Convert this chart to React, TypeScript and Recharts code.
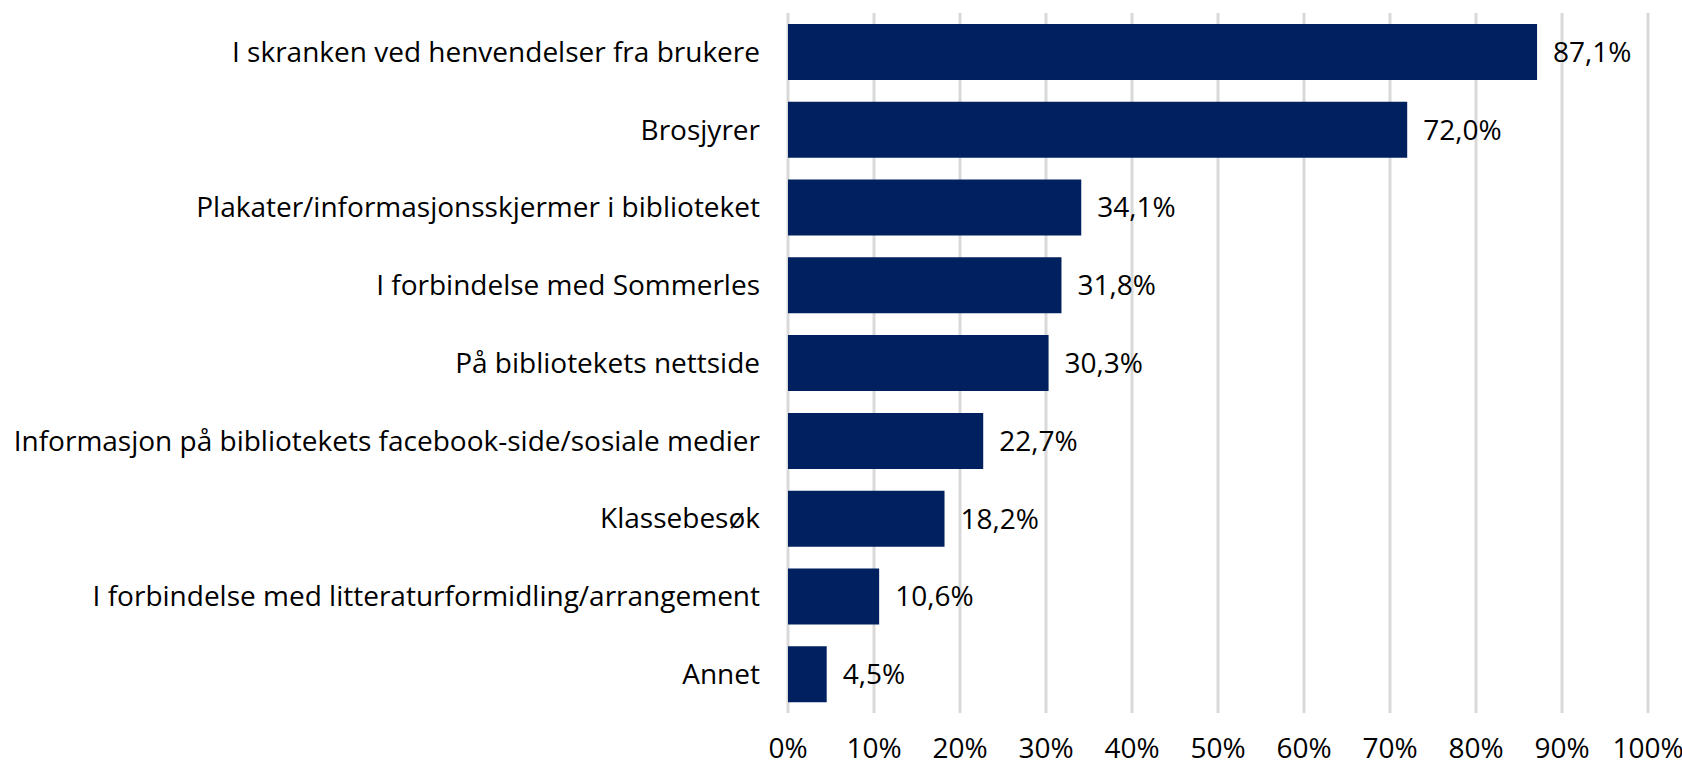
import React from "react";
import { BarChart, Bar, XAxis, YAxis, CartesianGrid, LabelList } from "recharts";

const categories = [
  "I skranken ved henvendelser fra brukere",
  "Brosjyrer",
  "Plakater/informasjonsskjermer i biblioteket",
  "I forbindelse med Sommerles",
  "På bibliotekets nettside",
  "Informasjon på bibliotekets facebook-side/sosiale medier",
  "Klassebesøk",
  "I forbindelse med litteraturformidling/arrangement",
  "Annet",
];
const values = [87.1, 72.0, 34.1, 31.8, 30.3, 22.7, 18.2, 10.6, 4.5];
const xTicks = [0, 10, 20, 30, 40, 50, 60, 70, 80, 90, 100];

const data = categories.map((name, i) => ({ name, value: values[i] }));

const FONT = "'Open Sans', sans-serif";
const FS = 28;

export default function App() {
  return (
    <div style={{ position: "absolute", left: 0, top: 0, background: "#fff" }}>
      <BarChart
        width={1682}
        height={764}
        data={data}
        layout="vertical"
        margin={{ top: 13, right: 34, bottom: 0, left: 0 }}
      >
        <CartesianGrid horizontal={false} vertical={true} stroke="#d9d9d9" strokeWidth={3} />
        <XAxis
          type="number"
          domain={[0, 100]}
          ticks={xTicks}
          interval={0}
          tickFormatter={(v: number) => `${v}%`}
          axisLine={false}
          tickLine={false}
          tickSize={0}
          tickMargin={25}
          height={51}
          tick={{ fill: "#000", fontSize: FS, fontFamily: FONT }}
        />
        <YAxis
          type="category"
          dataKey="name"
          width={788}
          axisLine={false}
          tickLine={false}
          tickSize={0}
          tickMargin={28}
          interval={0}
          tick={{ fill: "#000", fontSize: FS, fontFamily: FONT }}
        />
        <Bar dataKey="value" fill="#002060" barSize={56} isAnimationActive={false}>
          <LabelList
            dataKey="value"
            position="right"
            offset={16}
            formatter={(v: number) => `${v.toFixed(1).replace(".", ",")}%`}
            style={{ fill: "#000", fontSize: FS, fontFamily: FONT }}
          />
        </Bar>
      </BarChart>
    </div>
  );
}
